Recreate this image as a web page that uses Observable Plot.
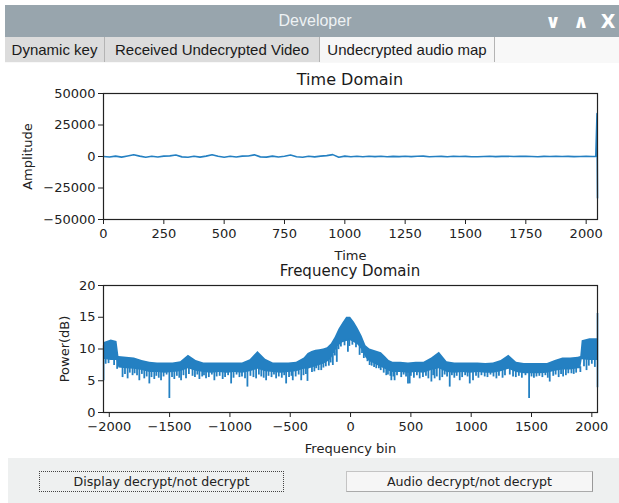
<!DOCTYPE html>
<html>
<head>
<meta charset="utf-8">
<script src="https://cdn.jsdelivr.net/npm/d3@7"></script>
<script src="https://cdn.jsdelivr.net/npm/@observablehq/plot@0.6"></script>
<style>
  html, body { margin: 0; padding: 0; background: #ffffff; }
  body { width: 619px; height: 503px; position: relative; overflow: hidden; font-family: "Liberation Sans", Arial, sans-serif; }
  .abs { position: absolute; }
  #titlebar { left: 5px; top: 5px; width: 614px; height: 32px; background: #98a5ad; }
  #wintitle { left: 315px; top: 21px; transform: translate(-50%, -50%); color: #eef2f4; font-size: 16px; font-family: "Liberation Sans", Arial, sans-serif; white-space: nowrap; }
  .ctl { top: 21px; transform: translate(-50%, -50%); color: #ffffff; font-family: "DejaVu Sans", sans-serif; font-weight: bold; font-size: 19px; line-height: 19px; }
  #tabrow { left: 5px; top: 37px; width: 614px; height: 26px; background: #f8f8f8; }
  .tab { top: 37px; height: 25px; box-sizing: border-box; border-right: 1px solid #b4b4b4; background: #dcdcdc; color: #1a1a1a; font-size: 15px; line-height: 25px; text-align: center; white-space: nowrap; }
  .tab.sel { background: #f6f6f6; }
  #content { left: 5px; top: 63px; width: 614px; height: 395px; background: #ffffff; }
  #buttons { left: 8px; top: 458px; width: 611px; height: 45px; background: #eef0f0; }
  .btn { top: 471px; height: 21px; box-sizing: border-box; font-family: "DejaVu Sans", sans-serif; font-size: 12.6px; color: #222; line-height: 19px; text-align: center; white-space: nowrap; }
  #btn1 { left: 39px; width: 245px; border: 1px dotted #444; background: #eef0f0; }
  #btn2 { left: 346px; width: 247px; border: 1px solid #c4c4c4; border-right-color: #999; border-bottom-color: #aaa; background: #f6f6f6; }
  .chart-title { transform: translate(-50%, -50%); font-family: "DejaVu Sans", sans-serif; font-size: 16px; color: #1a1a1a; white-space: nowrap; }
  .plot { position: absolute; left: 5px; }
</style>
</head>
<body>
<div id="titlebar" class="abs"></div>
<div id="wintitle" class="abs">Developer</div>
<div class="abs ctl" style="left:553px">∨</div>
<div class="abs ctl" style="left:581px">∧</div>
<div class="abs ctl" style="left:608px; font-size:19px">X</div>
<div id="tabrow" class="abs"></div>
<div class="abs tab" style="left:5px; width:100px">Dynamic key</div>
<div class="abs tab" style="left:105px; width:215px">Received Undecrypted Video</div>
<div class="abs tab sel" style="left:320px; width:175px">Undecrypted audio map</div>
<div id="content" class="abs"></div>
<div class="abs chart-title" style="left:350px; top:79px">Time Domain</div>
<div id="plot-time" class="plot" style="top:63px"></div>
<div class="abs chart-title" style="left:350px; top:271px; font-size:15px">Frequency Domain</div>
<div id="plot-freq" class="plot" style="top:263px"></div>
<div id="buttons" class="abs"></div>
<div id="btn1" class="abs btn">Display decrypt/not decrypt</div>
<div id="btn2" class="abs btn">Audio decrypt/not decrypt</div>

<script>
// ---- Time domain: sample index and amplitude ----
const timeSamples = [
  0, 25, 50, 75, 100, 125, 150, 175, 200, 225, 250, 275, 300, 325, 350, 375, 400, 425, 450, 475,
  500, 525, 550, 575, 600, 625, 650, 675, 700, 725, 750, 775, 800, 825, 850, 875, 900, 925, 950, 975,
  1000, 1025, 1050, 1075, 1100, 1125, 1150, 1175, 1200, 1225, 1250, 1275, 1300, 1325, 1350, 1375, 1400, 1425, 1450, 1475,
  1500, 1525, 1550, 1575, 1600, 1625, 1650, 1675, 1700, 1725, 1750, 1775, 1800, 1825, 1850, 1875, 1900, 1925, 1950, 1975,
  2000, 2025, 2040, 2045, 2047
];
const timeAmplitude = [
  0, -400, 300, -500, 400, 1400, 300, -600, 200, -400, 300, 500, 1200, -300, -600, 200, -500, 300, 1400, 200,
  -600, 200, -400, 300, 400, 1300, -300, -500, 300, -400, 200, 1200, -200, -600, 200, -300, 300, 700, 1500, -600,
  300, -200, 200, -200, 150, -100, 200, -150, 100, -100, 150, -100, 200, 300, -150, 0, 100, -150, 150, -50,
  100, -200, -150, 0, 150, -100, 100, 200, -50, 100, 200, 0, -150, 100, -50, 150, 0, 100, -100, 0,
  100, 0, 0, 34000, -33000
];

// ---- Frequency domain: band envelope of the power spectrum (dB) ----
const freqBins = [
  -2048, -1984, -1936, -1920, -1856, -1792, -1728, -1664, -1600, -1536, -1472, -1408, -1344, -1280, -1216, -1152, -1088,
  -1024, -960, -896, -832, -768, -704, -640, -576, -512, -448, -384,
  -352, -320, -288, -256, -224, -192, -160, -128, -96, -64, -32, 0, 32, 64, 96, 128, 160, 192, 224, 256, 288, 320,
  352, 416, 480, 544, 608, 672, 736, 800, 864, 928, 992, 1056, 1120, 1184, 1248, 1312, 1376, 1440, 1504, 1568,
  1632, 1696, 1760, 1824, 1888, 1908, 1920, 1984, 2047
];
const freqUpper = [
  11.0, 11.4, 11.2, 8.8, 8.7, 8.6, 8.2, 7.9, 7.8, 7.8, 7.8, 8.0, 9.0, 8.2, 7.8, 7.8, 7.8,
  7.8, 7.8, 7.8, 8.3, 9.6, 8.4, 7.8, 7.8, 7.8, 7.9, 8.6,
  9.3, 9.6, 9.8, 9.9, 10.0, 10.2, 10.8, 11.8, 13.1, 14.1, 15.0, 15.0, 14.2, 13.2, 12.0, 10.5, 10.0, 9.8, 9.6, 9.4, 8.8, 8.2,
  7.9, 7.9, 7.8, 7.9, 7.9, 8.6, 9.5, 8.0, 7.8, 7.8, 7.8, 7.8, 7.7, 7.8, 8.2, 9.0, 7.9, 7.7, 7.7, 7.7,
  7.7, 8.2, 8.6, 8.6, 8.7, 8.8, 11.3, 11.6, 11.6
];
const freqLower = [
  8.4, 8.2, 8.2, 7.0, 6.9, 6.8, 6.6, 6.3, 6.3, 6.2, 6.3, 6.4, 6.9, 6.5, 6.3, 6.2, 6.3,
  6.2, 6.3, 6.2, 6.4, 6.8, 6.4, 6.3, 6.2, 6.3, 6.4, 6.8,
  6.8, 7.0, 7.2, 7.4, 7.6, 7.9, 8.4, 9.5, 10.5, 11.0, 11.2, 11.3, 11.0, 10.6, 9.8, 8.6, 8.0, 7.7, 7.4, 7.1, 6.8, 6.5,
  6.3, 6.3, 6.2, 6.3, 6.2, 6.6, 6.9, 6.3, 6.2, 6.3, 6.2, 6.3, 6.2, 6.2, 6.4, 6.8, 6.3, 6.1, 6.1, 6.1,
  6.2, 6.5, 6.7, 6.7, 6.9, 6.9, 8.3, 8.2, 8.2
];

// Deep downward spikes reaching well below the band
const dipBins = [
  -2006, -1890, -1848, -1807, -1751, -1710, -1668, -1627, -1571, -1502, -1461, -1405, -1364, -1253, -1198, -1129,
  -1060, -990, -921, -855, -783, -700, -617, -534, -479, -409, -357, -285, -243, -147, -114, -22,
  75, 158, 213, 296, 338, 365, 476, 490, 573, 670, 697, 739, 822, 905, 988, 1015, 1112, 1209,
  1347, 1480, 1541, 1651, 1762, 1831, 1956, 2025
];
const dipValues = [
  7.7, 5.5, 5.3, 5.8, 5.0, 5.3, 4.5, 5.2, 5.0, 2.2, 5.2, 5.0, 5.3, 5.2, 5.3, 5.0,
  5.2, 4.5, 5.5, 4.0, 5.3, 5.0, 5.3, 4.5, 5.0, 5.0, 4.9, 6.9, 6.6, 7.4, 7.9, 9.5,
  9.0, 7.4, 6.9, 5.8, 5.0, 5.0, 4.5, 4.5, 5.3, 4.8, 5.3, 5.0, 4.0, 5.0, 4.5, 5.0, 5.6, 5.3,
  5.6, 2.2, 5.6, 4.8, 5.6, 6.1, 6.6, 7.1
];

// Shallow spikes that make the ragged lower edge of the band
const minorDipBins = [
  -2030, -1960, -1935, -1870, -1830, -1790, -1770, -1730, -1690, -1650, -1610, -1590, -1550, -1525, -1480, -1440,
  -1420, -1385, -1340, -1310, -1290, -1270, -1230, -1215, -1175, -1150, -1110, -1085, -1040, -1015, -970, -945,
  -900, -875, -830, -805, -760, -740, -720, -680, -655, -635, -595, -570, -550, -510, -490, -455, -430, -390,
  -370, -320, -300, -265, -225, -205, -180, -165, -130, -100, -80, -50, -10, 15, 45, 95, 110, 140, 175, 195,
  235, 250, 275, 310, 330, 355, 385, 420, 440, 460, 500, 525, 550, 600, 625, 645, 685, 715, 760, 780,
  800, 840, 860, 880, 925, 950, 970, 1040, 1060, 1085, 1135, 1160, 1185, 1230, 1260, 1280, 1320, 1370, 1395, 1420,
  1450, 1500, 1520, 1565, 1590, 1615, 1635, 1680, 1700, 1725, 1745, 1785, 1805, 1850, 1870, 1905, 1935, 1975, 2000
];
const minorDipValues = [
  7.6, 7.4, 6.8, 6.0, 6.2, 6.1, 5.8, 6.0, 5.6, 5.5, 5.7, 5.4, 5.6, 5.9, 5.5, 5.7,
  5.4, 5.8, 6.0, 5.7, 5.5, 5.9, 5.6, 5.8, 5.5, 5.9, 5.6, 5.7, 5.5, 5.8, 5.4, 5.9,
  5.6, 5.3, 5.7, 5.5, 5.9, 5.6, 5.4, 5.7, 5.5, 5.9, 5.6, 5.4, 5.8, 5.5, 5.7, 5.6, 5.9, 5.8,
  6.0, 6.3, 6.4, 6.6, 7.0, 7.2, 7.3, 7.8, 8.9, 9.9, 10.3, 10.5, 10.4, 10.6, 10.2, 9.3, 8.5, 8.0, 7.3, 7.1,
  6.9, 6.6, 6.2, 5.9, 5.7, 5.6, 5.8, 5.5, 5.9, 5.6, 5.7, 5.4, 5.8, 5.5, 5.7, 5.3, 5.8, 5.6, 5.5, 5.9,
  5.6, 5.8, 5.4, 5.7, 5.5, 5.8, 5.6, 5.7, 5.4, 5.8, 5.5, 5.9, 5.6, 5.7, 5.4, 5.8, 5.9, 5.5, 5.7, 5.4,
  5.8, 5.6, 5.4, 5.7, 5.5, 5.8, 5.4, 5.7, 5.9, 5.5, 6.0, 5.8, 6.1, 6.0, 6.2, 6.3, 7.2, 7.3, 7.6
];

// Full-height strokes at the two ends of the spectrum
const edgeBins = [-2047, 2047];
const edgeLow = [5.0, 3.9];
const edgeHigh = [10.5, 15.6];

// Axis ticks
const timeTicks = [0, 250, 500, 750, 1000, 1250, 1500, 1750, 2000];
const ampTicks = [-50000, -25000, 0, 25000, 50000];
const freqTicks = [-2000, -1500, -1000, -500, 0, 500, 1000, 1500, 2000];
const powerTicks = [0, 5, 10, 15, 20];

const blue = "#2480c2";
const fmt = d => String(d).replace("-", "\u2212");
const axisStyle = {
  fontFamily: "DejaVu Sans, sans-serif",
  fontSize: "13px",
  color: "#222",
  background: "transparent",
  overflow: "visible"
};

const timeRows = timeSamples.map((t, i) => ({t, a: timeAmplitude[i]}));
const bandRows = freqBins.map((b, i) => ({bin: b, upper: freqUpper[i], lower: freqLower[i]}));
const lowerAt = b => {
  const i = Math.max(0, d3.bisectRight(freqBins, b) - 1);
  const j = Math.min(freqBins.length - 1, i + 1);
  const f = j === i ? 0 : (b - freqBins[i]) / (freqBins[j] - freqBins[i]);
  return freqLower[i] + f * (freqLower[j] - freqLower[i]);
};
const dipRows = dipBins.map((b, i) => ({bin: b, low: dipValues[i], top: lowerAt(b) + 0.3}));
const minorRows = minorDipBins.map((b, i) => ({bin: b, low: minorDipValues[i], top: lowerAt(b) + 0.3}));
const edgeRows = edgeBins.map((b, i) => ({bin: b, low: edgeLow[i], high: edgeHigh[i]}));

// Axis labels carry no direction arrow
function stripArrows(svg) {
  svg.querySelectorAll("text").forEach(t => {
    if (/[→↑←↓]/.test(t.textContent)) t.textContent = t.textContent.replace(/\s*[→↑←↓]\s*/g, "").trim();
  });
  return svg;
}

const timePlot = Plot.plot({
  width: 614,
  height: 200,
  marginLeft: 98,
  marginRight: 22,
  marginTop: 30,
  marginBottom: 44,
  style: axisStyle,
  x: {domain: [0, 2047], ticks: timeTicks, tickFormat: fmt, tickSize: 5, tickPadding: 4,
      label: "Time", labelAnchor: "center", labelOffset: 40, labelArrow: "none"},
  y: {domain: [-50000, 50000], ticks: ampTicks, tickFormat: fmt, tickSize: 5, tickPadding: 3,
      label: "Amplitude", labelAnchor: "center", labelOffset: 81, labelArrow: "none"},
  marks: [
    Plot.line(timeRows, {x: "t", y: "a", stroke: blue, strokeWidth: 1.6}),
    Plot.frame({stroke: "#222", strokeWidth: 1.2})
  ]
});
document.getElementById("plot-time").append(stripArrows(timePlot));

const freqPlot = Plot.plot({
  width: 614,
  height: 195,
  marginLeft: 98,
  marginRight: 22,
  marginTop: 22,
  marginBottom: 46,
  style: axisStyle,
  x: {domain: [-2048, 2047], ticks: freqTicks, tickFormat: fmt, tickSize: 5, tickPadding: 4,
      label: "Frequency bin", labelAnchor: "center", labelOffset: 40, labelArrow: "none"},
  y: {domain: [0, 20], ticks: powerTicks, tickFormat: fmt, tickSize: 5, tickPadding: 3,
      label: "Power(dB)", labelAnchor: "center", labelOffset: 44, labelArrow: "none"},
  marks: [
    Plot.areaY(bandRows, {x: "bin", y1: "lower", y2: "upper", fill: blue}),
    Plot.ruleX(minorRows, {x: "bin", y1: "low", y2: "top", stroke: blue, strokeWidth: 1.8}),
    Plot.ruleX(dipRows, {x: "bin", y1: "low", y2: "top", stroke: blue, strokeWidth: 1.8}),
    Plot.ruleX(edgeRows, {x: "bin", y1: "low", y2: "high", stroke: blue, strokeWidth: 1.6}),
    Plot.frame({stroke: "#222", strokeWidth: 1.2})
  ]
});
document.getElementById("plot-freq").append(stripArrows(freqPlot));
</script>
</body>
</html>
